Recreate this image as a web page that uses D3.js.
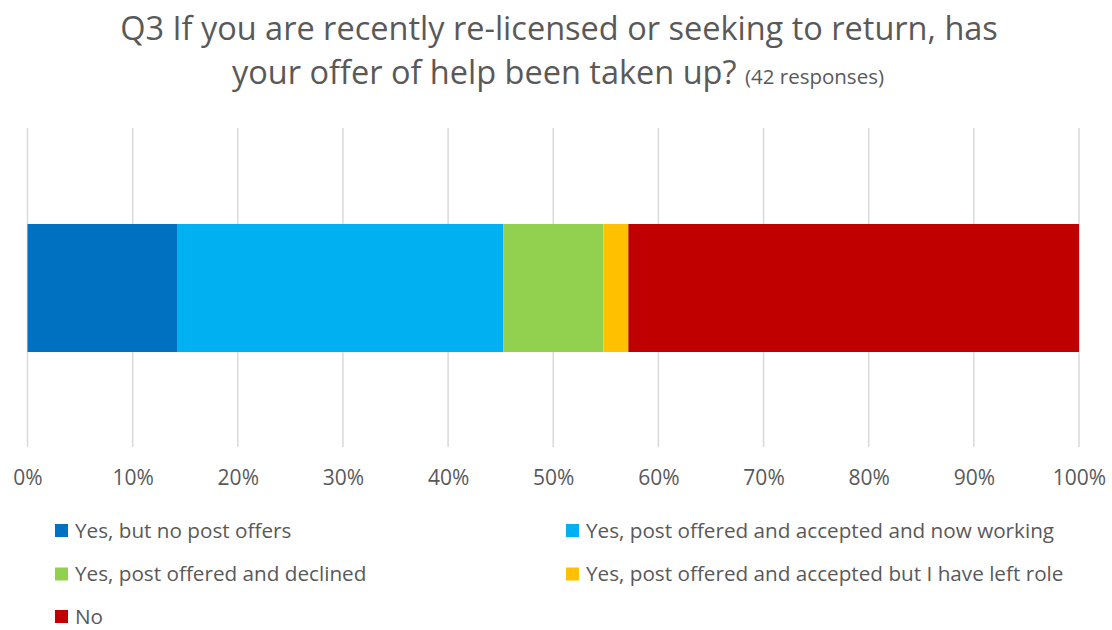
<!DOCTYPE html>
<html>
<head>
<meta charset="utf-8">
<script src="https://cdn.jsdelivr.net/npm/d3@7"></script>
<style>
  html, body { margin: 0; padding: 0; background: #fff; }
  svg { display: block; }
  text { font-family: "Open Sans", Lato, sans-serif; fill: #595959; }
</style>
</head>
<body>
<svg id="chart" width="1112" height="630"></svg>
<script>
// Responses to Q3 (42 in total), one stacked 100% bar
const categories = [
  "Yes, but no post offers",
  "Yes, post offered and accepted and now working",
  "Yes, post offered and declined",
  "Yes, post offered and accepted but I have left role",
  "No"
];
const counts = [6, 13, 4, 1, 18];
const colors = ["#0070C0", "#00B0F0", "#92D050", "#FFC000", "#C00000"];
const tickValues = [0, 0.1, 0.2, 0.3, 0.4, 0.5, 0.6, 0.7, 0.8, 0.9, 1];

const svg = d3.select("#chart");
const plot = { left: 27.5, right: 1079, top: 128, bottom: 447 };

// Title
const title = svg.append("text")
  .attr("text-anchor", "middle")
  .attr("font-size", 32.5);
title.append("tspan").attr("x", 559).attr("y", 40)
  .text("Q3 If you are recently re-licensed or seeking to return, has");
const l2 = title.append("tspan").attr("x", 558).attr("y", 84);
l2.append("tspan").text("your offer of help been taken up? ");
l2.append("tspan").attr("font-size", 20.5).text("(42 responses)");

const total = d3.sum(counts);
const x = d3.scaleLinear().domain([0, 1]).range([plot.left, plot.right]);

// Vertical gridlines
svg.append("g")
  .selectAll("line")
  .data(tickValues)
  .join("line")
  .attr("x1", d => x(d)).attr("x2", d => x(d))
  .attr("y1", plot.top).attr("y2", plot.bottom)
  .attr("stroke", "#d9d9d9")
  .attr("stroke-width", 1.5);

// Stacked segments (shares of all responses)
const stackData = [Object.fromEntries(categories.map((c, i) => [c, counts[i] / total]))];
const series = d3.stack().keys(categories)(stackData);
const barTop = 224, barHeight = 128;

svg.append("g")
  .selectAll("rect")
  .data(series)
  .join("rect")
  .attr("x", s => x(s[0][0]))
  .attr("width", s => x(s[0][1]) - x(s[0][0]))
  .attr("y", barTop)
  .attr("height", barHeight)
  .attr("fill", (s, i) => colors[i]);

// Axis labels
const axis = d3.axisBottom(x)
  .tickValues(tickValues)
  .tickFormat(d3.format(".0%"))
  .tickSize(0)
  .tickPadding(0);
const ag = svg.append("g").attr("transform", `translate(0, ${plot.bottom + 23})`).call(axis);
ag.select(".domain").remove();
ag.selectAll("text")
  .attr("font-size", 21)
  .attr("font-family", "'Open Sans', Lato, sans-serif")
  .attr("fill", "#595959");

// Legend in two columns
const legendCols = [55, 566];
const legendRows = [530.5, 574, 616.5];
const lg = svg.append("g")
  .selectAll("g")
  .data(categories)
  .join("g")
  .attr("transform", (d, i) => `translate(${legendCols[i % 2]}, ${legendRows[Math.floor(i / 2)]})`);
lg.append("rect")
  .attr("x", 0).attr("y", -6.5)
  .attr("width", 13).attr("height", 13)
  .attr("fill", (d, i) => colors[i]);
lg.append("text")
  .attr("x", 20).attr("y", 0)
  .attr("dy", "0.36em")
  .attr("font-size", 20.7)
  .text(d => d);
</script>
</body>
</html>
